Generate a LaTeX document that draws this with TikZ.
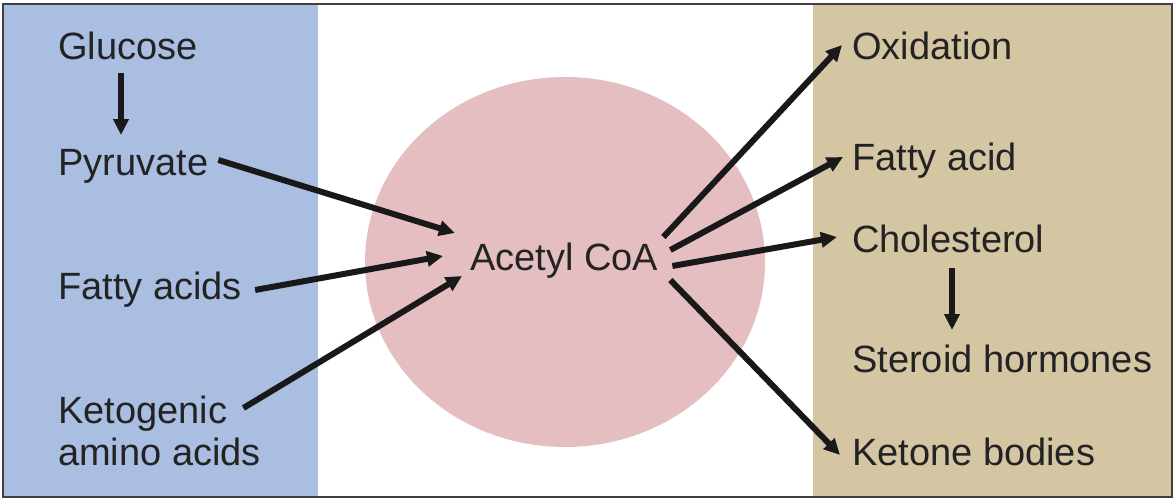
\documentclass[tikz,border=0pt]{standalone}
\usepackage{fontspec}
\setmainfont{Liberation Sans}
\usetikzlibrary{arrows.meta}
\definecolor{panelblue}{RGB}{170,190,226}
\definecolor{paneltan}{RGB}{212,197,163}
\definecolor{blobpink}{RGB}{228,190,192}
\definecolor{txt}{RGB}{35,35,35}
\definecolor{arrowc}{RGB}{25,25,25}
\begin{document}
\begin{tikzpicture}[x=1pt,y=-1pt,
  lbl/.style={anchor=base west,inner sep=0pt,text=txt,font=\fontsize{38}{40}\selectfont},
  arr/.style={draw=arrowc,line width=6pt,-{Triangle[length=16pt,width=15pt]}}]
\useasboundingbox (0,0) rectangle (1175,501);
\fill[white] (0,0) rectangle (1175,501);
\fill[panelblue] (4,4) rectangle (318,497);
\fill[paneltan] (813,4) rectangle (1172,497);
\fill[blobpink] (565,262) ellipse [x radius=200, y radius=185];
\draw[line width=2.5pt,draw=black!75] (3,4) rectangle (1172,497);
% left texts
\node[lbl] (glu) at (58,59) {Glucose};
\node[lbl] (pyr) at (58,175) {Pyruvate};
\node[lbl] (fas) at (58,299) {Fatty acids};
\node[lbl] (keto) at (58,423) {Ketogenic};
\node[lbl] (amino) at (58,465) {amino acids};
% center
\node[lbl] (acoa) at (470,270) {Acetyl CoA};
% right texts
\node[lbl] (oxi) at (852,59) {Oxidation};
\node[lbl] (fa) at (852,170) {Fatty acid};
\node[lbl] (chol) at (852,252) {Cholesterol};
\node[lbl] (ster) at (852,372) {Steroid hormones};
\node[lbl] (ket) at (852,465) {Ketone bodies};
% arrows
\draw[arr] ([shift={(63,14)}]glu.base west) -- ([shift={(63,-40)}]pyr.base west);
\draw[arr] ([shift={(10,-15)}]pyr.base east) -- ([shift={(-15,-37)}]acoa.base west);
\draw[arr] ([shift={(13,-9)}]fas.base east) -- ([shift={(-27,-14)}]acoa.base west);
\draw[arr] ([shift={(16,-15)}]keto.base east) -- ([shift={(-8,6)}]acoa.base west);
\draw[arr] ([shift={(5,-33)}]acoa.base east) -- ([shift={(-10,-14)}]oxi.base west);
\draw[arr] ([shift={(12,-20)}]acoa.base east) -- ([shift={(-9,-13)}]fa.base west);
\draw[arr] ([shift={(14,-4)}]acoa.base east) -- ([shift={(-15,-15)}]chol.base west);
\draw[arr] ([shift={(12,10)}]acoa.base east) -- ([shift={(-12,-10)}]ket.base west);
\draw[arr] ([shift={(100,16)}]chol.base west) -- ([shift={(100,-42)}]ster.base west);
\end{tikzpicture}
\end{document}
